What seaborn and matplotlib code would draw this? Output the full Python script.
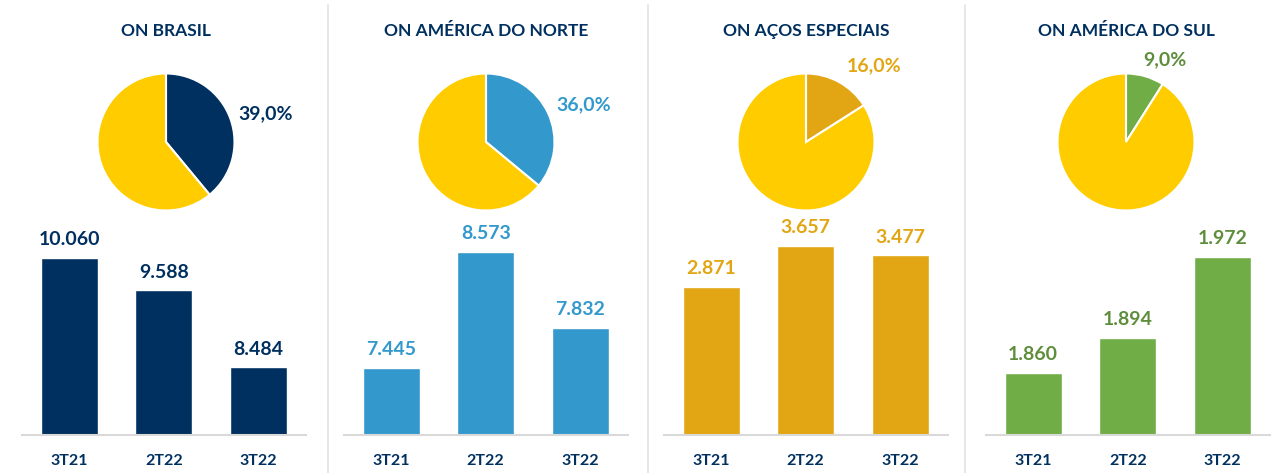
import matplotlib
matplotlib.use("Agg")
import matplotlib.pyplot as plt
import seaborn as sns
import pandas as pd
from matplotlib.lines import Line2D

# Data
titles = ["ON BRASIL", "ON AMÉRICA DO NORTE", "ON AÇOS ESPECIAIS", "ON AMÉRICA DO SUL"]
periods = ["3T21", "2T22", "3T22"]
brasil = [10.060, 9.588, 8.484]
america_norte = [7.445, 8.573, 7.832]
acos_especiais = [2.871, 3.657, 3.477]
america_sul = [1.860, 1.894, 1.972]
shares = [39.0, 36.0, 16.0, 9.0]

series = [brasil, america_norte, acos_especiais, america_sul]

# Styling
navy = "#00305F"
yellow = "#FFCC00"
bar_colors = ["#00305F", "#3399CC", "#E2A614", "#70AD47"]
label_colors = ["#00305F", "#3399CC", "#E2A614", "#5E8E3C"]
ylims = [(7.51, 10.60), (6.79, 8.88), (0.0, 4.16), (1.80, 2.0075)]
label_pos = [(1.05, 0.41), (1.02, 0.55), (0.60, 1.11), (0.25, 1.20)]

sns.set_theme(style="white")
plt.rcParams["font.family"] = ["Lato", "DejaVu Sans"]

W, H = 1284, 473
fig = plt.figure(figsize=(W / 100, H / 100), dpi=100)


def px_axes(left, top, width, height):
    return fig.add_axes([left / W, 1 - (top + height) / H, width / W, height / H])


pie_centers = [166, 486, 806, 1126]
bar_lefts = [22, 344, 664, 986]

for i in range(4):
    # Title
    fig.text(pie_centers[i] / W, 1 - 31 / H, titles[i], ha="center", va="center",
             fontsize=12.5, fontweight="bold", color=navy)

    # Pie
    S = 200
    cy = 142
    pax = px_axes(pie_centers[i] - S / 2, cy - S / 2, S, S)
    pax.pie([shares[i], 100 - shares[i]], colors=[bar_colors[i], yellow],
            startangle=90, counterclock=False,
            wedgeprops=dict(edgecolor="white", linewidth=1.5))
    L = (S / 2) / 68.5
    pax.set_xlim(-L, L)
    pax.set_ylim(-L, L)
    pax.set_aspect("equal")
    pax.axis("off")
    lx, ly = label_pos[i]
    pax.text(lx, ly, f"{shares[i]:.1f}%".replace(".", ","), ha="left", va="center",
             fontsize=14, fontweight="bold", color=label_colors[i])

    # Bars
    df = pd.DataFrame({"period": periods, "value": series[i]})
    bax = px_axes(bar_lefts[i], 220, 283.5, 215)
    bax.patch.set_alpha(0)
    sns.barplot(data=df, x="period", y="value", color=bar_colors[i], width=0.6,
                saturation=1, ax=bax)
    bax.set_ylim(*ylims[i])
    bax.set_xlim(-0.5, 2.5)
    bax.set_xlabel("")
    bax.set_ylabel("")
    bax.set_yticks([])
    for side in ["top", "right", "left"]:
        bax.spines[side].set_visible(False)
    bax.spines["bottom"].set_color("#D9D9D9")
    bax.spines["bottom"].set_linewidth(1.5)
    bax.tick_params(axis="x", length=0, pad=14)
    for t in bax.get_xticklabels():
        t.set_fontsize(11.5)
        t.set_fontweight("bold")
        t.set_color(navy)
    for j, v in enumerate(series[i]):
        bax.annotate(f"{v:.3f}", (j, v), xytext=(0, 7),
                     textcoords="offset points", ha="center", va="bottom",
                     fontsize=14, fontweight="bold", color=label_colors[i],
                     annotation_clip=False)

# Panel separators
for x in [328, 648, 965]:
    fig.add_artist(Line2D([x / W, x / W], [0, 1 - 5 / H], color="#E3E3E3", linewidth=1.2))

fig.savefig("out.png", dpi=100, facecolor="white")
